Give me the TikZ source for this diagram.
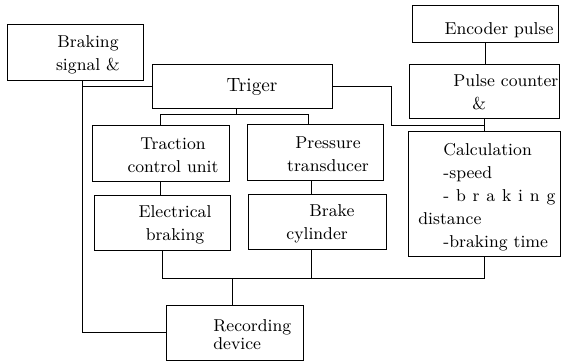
\documentclass[tikz,border=0pt]{standalone}

\begin{document}
\begin{tikzpicture}[x=0.5pt,y=-0.5pt]
%styles des boites, des textes et des liaisons
\tikzset{boite/.style={draw,line width=0.5pt,inner sep=0pt},
         texte/.style={inner sep=0pt,align=center,font=\fontsize{8.6}{11.5}\selectfont},
         liaison/.style={line width=0.5pt}}
\useasboundingbox (0,0) rectangle (562,361);

%boites
\node[boite,minimum width=68pt,minimum height=28pt] (frein) at (75,52) {};
\node[boite,minimum width=90pt,minimum height=22pt] (trig) at (242,86) {};
\node[boite,minimum width=73pt,minimum height=18.5pt] (codeur) at (485,23.5) {};
\node[boite,minimum width=75pt,minimum height=27pt] (compteur) at (484,91) {};
\node[boite,minimum width=76pt,minimum height=62.5pt] (calcul) at (484,193.5) {};
\node[boite,minimum width=68.5pt,minimum height=28pt] (traction) at (160.5,153) {};
\node[boite,minimum width=68pt,minimum height=28pt] (pression) at (315,152) {};
\node[boite,minimum width=68pt,minimum height=27.5pt] (elec) at (162,222.5) {};
\node[boite,minimum width=69pt,minimum height=27.5pt] (cylindre) at (317,221.5) {};
\node[boite,minimum width=68.5pt,minimum height=27.5pt] (enreg) at (234.5,332.5) {};

%textes
\node[texte] (tfrein) at (88,55) {Braking\\signal \&};
\node[texte,font=\fontsize{9.6}{12}\selectfont] (ttrig) at (252,87) {Triger};
\node[texte] (tcodeur) at (499,30) {Encoder pulse};
\node[texte,anchor=west,align=left] (tcompteur) at (453,92) {Pulse counter\\\hspace*{9.5pt}\&};
\node[texte] (ttraction) at (173,155) {Traction\\control unit};
\node[texte] (telec) at (175,225) {Electrical\\braking};
\node[texte] (tpression) at (328,154) {Pressure\\transducer};
\node[texte,anchor=west,align=left] (tcylindre) at (286,224) {\hspace*{11.5pt}Brake\\cylinder};
\node[texte,anchor=west,align=left,font=\fontsize{8.6}{9}\selectfont] (tenreg) at (213,335) {Recording\\device};
\node[texte,anchor=west,align=left] (tcalcul) at (418,197) {\hspace*{12.5pt}Calculation\\
  \hspace*{12.5pt}-speed\\
  \hspace*{12.5pt}\makebox[56pt][s]{- b r a k i n g}\\
  distance\\
  \hspace*{12.5pt}-braking time};

%liaisons
\coordinate (g) at ([xshift=3.5pt]frein.south);
\draw[liaison] (g) |- (enreg.west);
\draw[liaison] (trig.west) -- (trig.west -| g);
\coordinate (coude) at (391,125);
\draw[liaison] (trig.east) -| (coude) -- (coude -| compteur.south);
\draw[liaison] (codeur.south) -- (codeur.south |- compteur.north);
\draw[liaison] (compteur.south) -- (compteur.south |- calcul.north);
\coordinate (t) at ([xshift=-3pt,yshift=-3pt]trig.south);
\draw[liaison] ([xshift=-3pt]trig.south) -- (t);
\draw[liaison] (traction.north) |- (t) -| ([xshift=-3.5pt]pression.north);
\draw[liaison] (traction.south) -- (traction.south |- elec.north);
\coordinate (p) at ([xshift=-2pt]pression.south);
\draw[liaison] (p) -- (p |- cylindre.north);
\coordinate (b) at (232,278);
\draw[liaison] (elec.south) |- (b) -| (calcul.south);
\draw[liaison] (p |- cylindre.south) -- (p |- b);
\draw[liaison] (b) -- (b |- enreg.north);
\end{tikzpicture}
\end{document}
